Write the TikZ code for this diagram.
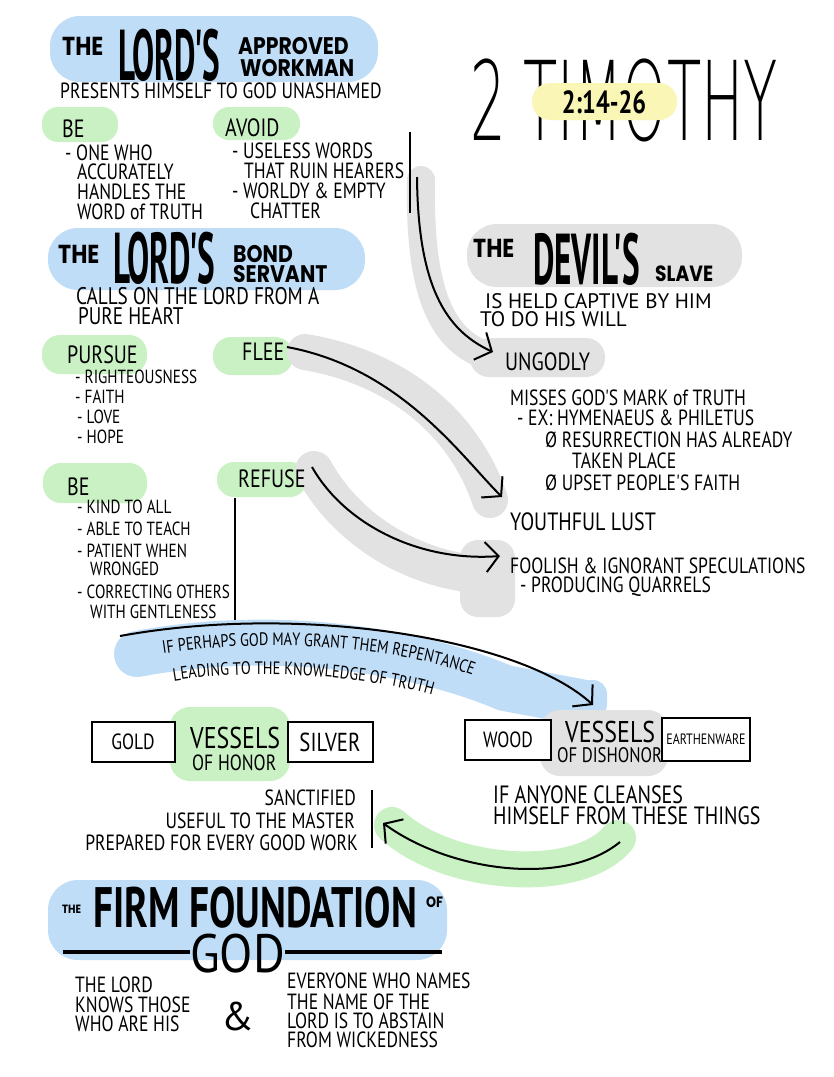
\documentclass[tikz,border=0pt]{standalone}
\usepackage{fontspec}
\usepackage{graphicx}
\usetikzlibrary{arrows.meta,decorations.text}
\newfontfamily\fhand{PT Sans}[FakeStretch=0.8]
\newfontfamily\fplain{PT Sans}
\newfontfamily\fheavy{Poppins}[FakeStretch=0.85]
\IfFontExistsTF{DejaVu Sans ExtraLight}
  {\newfontfamily\fthin{DejaVu Sans ExtraLight}\newcommand\thinsx{0.51}}
  {\IfFontExistsTF{DejaVuSans-ExtraLight.ttf}
     {\newfontfamily\fthin{DejaVuSans-ExtraLight.ttf}\newcommand\thinsx{0.51}}
     {\newfontfamily\fthin{PT Sans}\newcommand\thinsx{0.57}}}
\definecolor{blueF}{RGB}{192,221,248}
\definecolor{greenF}{RGB}{202,241,196}
\definecolor{grayF}{RGB}{226,226,226}
\definecolor{yellowF}{RGB}{249,246,182}
\newcommand\sq[3]{\scalebox{#1}[1]{\fontsize{#2}{#2}\selectfont #3}}
\begin{document}
\begin{tikzpicture}[x=1pt,y=1pt,
  txt/.style={anchor=base west, inner sep=0pt, font=\fhand\fontsize{22}{22}\selectfont},
  txts/.style={anchor=base west, inner sep=0pt, font=\fhand\fontsize{19}{19}\selectfont},
  txtr/.style={anchor=base east, inner sep=0pt, font=\fhand\fontsize{22}{22}\selectfont},
  lbl/.style={anchor=base west, inner sep=0pt, font=\fhand\fontsize{25}{25}\selectfont},
  hv/.style={anchor=base west, inner sep=0pt, font=\fheavy\bfseries\fontsize{24}{24}\selectfont},
  hvbig/.style={anchor=base west, inner sep=0pt, font=\fheavy\bfseries\fontsize{26}{26}\selectfont},
  big/.style={anchor=base west, inner sep=0pt, font=\fplain},
  vbox/.style={draw, line width=2pt, fill=white, minimum height=40pt, inner sep=0pt, font=\fhand\fontsize{22}{22}\selectfont},
  conn/.style={line width=2pt, -{Straight Barb[length=13pt,width=30pt]}},
  divider/.style={line width=2pt},
  swoosh/.style={line width=#1, line cap=round},
]
\useasboundingbox (0,0) rectangle (834,-1077);
\fill[white] (0,0) rectangle (834,-1077);

% ---------- highlights ----------
\fill[blueF, rounded corners=30pt] (50,-16) rectangle (378,-82);
\fill[greenF, rounded corners=16pt] (42,-107) rectangle (118,-142);
\fill[greenF, rounded corners=16pt] (213,-107) rectangle (300,-140);
\fill[blueF, rounded corners=30pt] (48,-228) rectangle (365,-290);
\fill[greenF, rounded corners=18pt] (42,-335) rectangle (147,-374);
\fill[greenF, rounded corners=18pt] (213,-337) rectangle (293,-375);
\fill[greenF, rounded corners=18pt] (43,-463) rectangle (147,-503);
\fill[greenF, rounded corners=17pt] (217,-462) rectangle (307,-497);
\fill[grayF, rounded corners=30pt] (467,-224) rectangle (742,-287);
% gray swooshes
\draw[grayF, swoosh=28pt] (421,-180) .. controls (419,-290) and (440,-345) .. (495,-358);
\fill[grayF, rounded corners=19pt] (470,-338) rectangle (605,-377);
\draw[grayF, swoosh=36pt] (305,-352) .. controls (400,-368) and (465,-425) .. (490,-500);
\draw[grayF, swoosh=38pt] (314,-470) .. controls (350,-535) and (420,-572) .. (487,-575);
\fill[grayF, rounded corners=18pt] (460,-540) rectangle (515,-617);
% blue swoosh
\draw[blueF, swoosh=46pt] (137,-654) .. controls (280,-627) and (420,-652) .. (505,-688) -- (580,-702);
\fill[blueF, rounded corners=14pt] (540,-680) rectangle (607,-718);
% vessels highlights
\fill[greenF, rounded corners=20pt] (170,-707) rectangle (290,-781);
\fill[grayF, rounded corners=20pt] (540,-710) rectangle (668,-776);
% green swoosh
\draw[greenF, swoosh=36pt] (618,-838) .. controls (580,-885) and (450,-878) .. (392,-825);
% bottom blob
\fill[blueF, rounded corners=30pt] (48,-880) rectangle (447,-960);

% ---------- THE LORD'S APPROVED WORKMAN ----------
\node[hvbig] (the1) at (62,-55) {THE};
\node[big, font=\fplain\bfseries] (lord1) at (118,-80) {\sq{0.46}{72}{LORD'S}};
\node[hv] (appr) at (238,-54) {APPROVED};
\node[hv] (workm) at (240,-76) {WORKMAN};
\node[txt] (pres) at (60,-98) {PRESENTS HIMSELF TO GOD UNASHAMED};

\node[lbl] (be1) at (62,-137) {BE};
\node[txt] (be1a) at (65,-160) {- ONE WHO};
\node[txt] (be1b) at (77,-179) {ACCURATELY};
\node[txt] (be1c) at (77,-199) {HANDLES THE};
\node[txt] (be1d) at (77,-219) {WORD of TRUTH};

\node[lbl] (avoid) at (225,-136) {AVOID};
\node[txt] (av1) at (232,-158) {- USELESS WORDS};
\node[txt] (av2) at (244,-178) {THAT RUIN HEARERS};
\node[txt] (av3) at (232,-198) {- WORLDY \& EMPTY};
\node[txt] (av4) at (250,-218) {CHATTER};
\draw[divider] (410,-132) -- (410,-213);

% ---------- 2 TIMOTHY ----------
\node[big, font=\fthin] (tim) at (470,-140) {\sq{\thinsx}{110}{2 TIMOTHY}};
\fill[yellowF, rounded corners=18pt] (532,-83) rectangle (677,-120);
\node[inner sep=0pt, font=\fhand\bfseries] (ref) at (604,-102) {\sq{0.95}{32}{2:14-26}};

% ---------- THE LORD'S BOND SERVANT ----------
\node[hvbig] (the2) at (58,-263) {THE};
\node[big, font=\fplain\bfseries] (lord2) at (113,-283) {\sq{0.46}{72}{LORD'S}};
\node[hv] (bond) at (233,-262) {BOND};
\node[hv] (serv) at (233,-282) {SERVANT};
\node[txt, font=\fhand\fontsize{24}{24}\selectfont] (calls1) at (76,-304) {CALLS ON THE LORD FROM A};
\node[txt, font=\fhand\fontsize{24}{24}\selectfont] (calls2) at (78,-324) {PURE HEART};

\node[lbl] (pursue) at (67,-363) {PURSUE};
\node[txts] (pu1) at (75,-383) {- RIGHTEOUSNESS};
\node[txts] (pu2) at (75,-403) {- FAITH};
\node[txts] (pu3) at (77,-423) {- LOVE};
\node[txts] (pu4) at (77,-443) {- HOPE};
\node[lbl] (flee) at (242,-360) {FLEE};

\node[lbl] (be2) at (67,-495) {BE};
\node[txts] (be2a) at (77,-513) {- KIND TO ALL};
\node[txts] (be2b) at (77,-535) {- ABLE TO TEACH};
\node[txts] (be2c) at (77,-557) {- PATIENT WHEN};
\node[txts] (be2d) at (90,-575) {WRONGED};
\node[txts] (be2e) at (77,-598) {- CORRECTING OTHERS};
\node[txts] (be2f) at (90,-618) {WITH GENTLENESS};
\node[lbl] (refuse) at (238,-487) {REFUSE};
\draw[divider] (235,-498) -- (235,-620);

% ---------- THE DEVIL'S SLAVE ----------
\node[hvbig] (the3) at (473,-257) {THE};
\node[big, font=\fplain\bfseries] (devil) at (533,-284) {\sq{0.46}{72}{DEVIL'S}};
\node[hv, font=\fheavy\bfseries\fontsize{22}{22}\selectfont] (slave) at (655,-281) {SLAVE};
\node[txt, font=\fplain\fontsize{21}{21}\selectfont] (held1) at (485,-308) {IS HELD CAPTIVE BY HIM};
\node[txt, font=\fplain\fontsize{21}{21}\selectfont] (held2) at (480,-326) {TO DO HIS WILL};

\node[lbl] (ungodly) at (505,-370) {UNGODLY};
\node[txt] (miss) at (510,-405) {MISSES GOD'S MARK of TRUTH};
\node[txt] (ex) at (517,-425) {- EX: HYMENAEUS \& PHILETUS};
\node[txt] (res1) at (545,-447) {Ø RESURRECTION HAS ALREADY};
\node[txt] (res2) at (572,-468) {TAKEN PLACE};
\node[txt] (ups) at (545,-490) {Ø UPSET PEOPLE'S FAITH};
\node[lbl] (youth) at (510,-530) {YOUTHFUL LUST};
\node[txt] (fool) at (510,-573) {FOOLISH \& IGNORANT SPECULATIONS};
\node[txt] (quar) at (520,-592) {- PRODUCING QUARRELS};

% ---------- repentance band ----------
\path[decorate, decoration={text along path, text align=center,
  text={|\fhand\fontsize{18}{18}\selectfont|IF PERHAPS GOD MAY GRANT THEM REPENTANCE}}]
  (128,-660) .. controls (250,-634) and (420,-643) .. (505,-690);
\path[decorate, decoration={text along path, text align=center,
  text={|\fhand\fontsize{18}{18}\selectfont|LEADING TO THE KNOWLEDGE OF TRUTH}}]
  (135,-690) .. controls (220,-664) and (380,-671) .. (470,-708);

% ---------- vessels ----------
\node[vbox, minimum width=83pt] (gold) at (133,-742) {GOLD};
\node[vbox, minimum width=85pt, font=\fhand\fontsize{26}{26}\selectfont] (silver) at (330,-742) {SILVER};
\node[txt, font=\fhand\fontsize{30}{30}\selectfont] (ves1) at (190,-748) {VESSELS};
\node[txt] (hon) at (192,-770) {OF HONOR};
\node[vbox, minimum width=86pt] (wood) at (508,-740) {WOOD};
\node[vbox, minimum width=88pt, minimum height=43pt, font=\fhand\fontsize{15}{15}\selectfont] (earth) at (706,-739) {EARTHENWARE};
\node[txt, font=\fhand\fontsize{30}{30}\selectfont] (ves2) at (565,-742) {VESSELS};
\node[txt, font=\fhand\fontsize{21}{21}\selectfont] (dis) at (557,-762) {OF DISHONOR};

\node[txtr] (sanc) at (356,-805) {SANCTIFIED};
\node[txtr] (usef) at (355,-828) {USEFUL TO THE MASTER};
\node[txtr] (prep) at (358,-850) {PREPARED FOR EVERY GOOD WORK};
\draw[divider] (372,-790) -- (372,-848);
\node[txt, font=\fhand\fontsize{25}{25}\selectfont] (clean1) at (493,-803) {IF ANYONE CLEANSES};
\node[txt, font=\fhand\fontsize{25}{25}\selectfont] (clean2) at (493,-824) {HIMSELF FROM THESE THINGS};

% ---------- firm foundation ----------
\node[hv, font=\fheavy\bfseries\fontsize{12}{12}\selectfont] (the4) at (62,-913) {THE};
\node[big, font=\fplain\bfseries] (firm) at (93,-927) {\sq{0.69}{57}{FIRM FOUNDATION}};
\node[hv, font=\fheavy\bfseries\fontsize{15}{15}\selectfont] (of4) at (426,-907) {OF};
\node[big] (god) at (190,-972) {\sq{0.9}{54}{GOD}};
\draw[line width=4pt] (63,-952) -- (god.west |- 0,-952);
\draw[line width=4pt] (god.east |- 0,-952) -- (442,-952);

\node[txt] (kn1) at (75,-992) {THE LORD};
\node[txt] (kn2) at (75,-1012) {KNOWS THOSE};
\node[txt] (kn3) at (75,-1031) {WHO ARE HIS};
\node[anchor=base, inner sep=0pt, font=\fplain\fontsize{40}{40}\selectfont] (amp) at (238,-1030) {\&};
\node[txt] (ev1) at (287,-988) {EVERYONE WHO NAMES};
\node[txt] (ev2) at (287,-1009) {THE NAME OF THE};
\node[txt] (ev3) at (287,-1028) {LORD IS TO ABSTAIN};
\node[txt] (ev4) at (287,-1047) {FROM WICKEDNESS};

% ---------- connectors ----------
\coordinate (a1s) at (417,-177);
\coordinate (a1e) at (493,-352);
\draw[conn] (a1s) .. controls (418,-285) and (445,-330) .. (a1e);
\coordinate (a2s) at (287,-347);
\coordinate (a2e) at (502,-497);
\draw[conn] (a2s) .. controls (400,-368) and (460,-455) .. (a2e);
\coordinate (a3s) at (312,-467);
\coordinate (a3e) at (500,-556);
\draw[conn] (a3s) .. controls (345,-525) and (420,-562) .. (a3e);
\coordinate (a4s) at (120,-636);
\coordinate (a4e) at (593,-705);
\draw[conn] (a4s) .. controls (300,-603) and (520,-638) .. (a4e);
\coordinate (a5s) at (620,-842);
\coordinate (a5e) at (383,-823);
\draw[conn] (a5s) .. controls (565,-887) and (450,-872) .. (a5e);
\end{tikzpicture}
\end{document}
